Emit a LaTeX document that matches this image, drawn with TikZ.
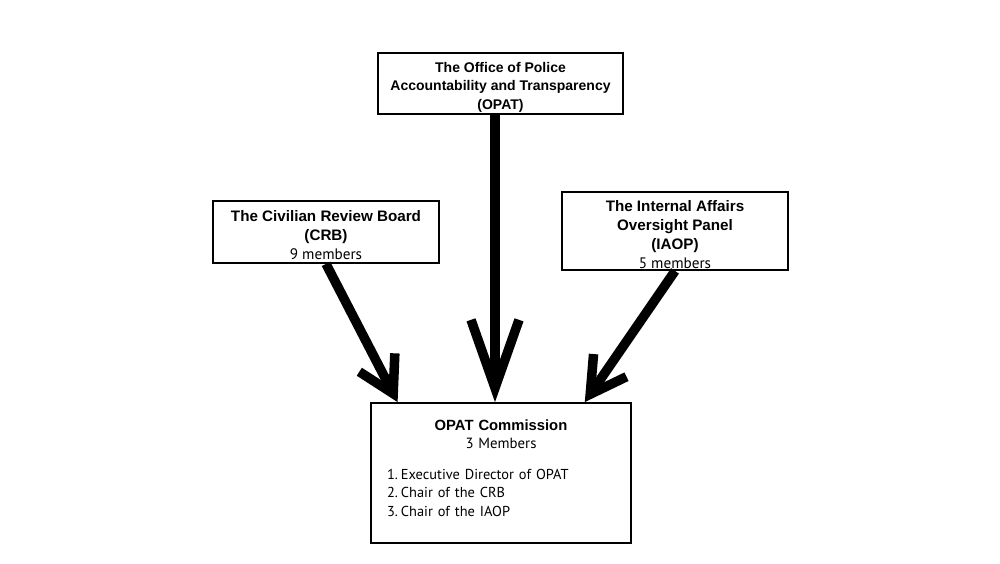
\documentclass[tikz,border=0pt]{standalone}
\usepackage{fontspec}
\setmainfont{PT Sans}
\newfontfamily\headfont{Liberation Sans}
\usetikzlibrary{arrows.meta, calc}

\tikzset{
  box/.style={draw, line width=0.9pt, inner sep=0pt, align=center, minimum width=113pt},
  flow/.style={line width=4.75pt, -{Straight Barb[sharp, length=17.5pt, width=20pt]}},
}
\newcommand{\hd}[1]{{\headfont\bfseries #1}}
\newcommand{\tp}{\rule{0pt}{8.6pt}}

\begin{document}
\begin{tikzpicture}[x=0.5pt, y=-0.5pt]
        \useasboundingbox (0,0) rectangle (1000,563);
        \node[box, minimum width=122.5pt, minimum height=30.5pt, font=\fontsize{7}{9.3}\selectfont] (opat) at (500.5,83.5)
          {\tp\hd{The Office of Police}\\ \hd{Accountability and Transparency}\\ \hd{(OPAT)}};
        \node[box, minimum height=31pt, font=\fontsize{7.6}{9.4}\selectfont] (crb) at (326,232)
          {\tp\hd{The Civilian Review Board}\\ \hd{(CRB)}\\ 9 members};
        \node[box, minimum height=39pt, font=\fontsize{7.6}{9.5}\selectfont] (iaop) at (675,231)
          {\tp\hd{The Internal Affairs}\\ \hd{Oversight Panel}\\ \hd{(IAOP)}\\ 5 members};
        \node[draw, line width=0.9pt, inner sep=0pt, minimum width=130pt, minimum height=70pt, text width=114pt,
          font=\fontsize{7.4}{9.3}\selectfont] (comm) at (501,473)
          {\centering\hd{OPAT Commission}\\ 3 Members\par\vspace{6pt}
           \raggedright\fontsize{7.2}{9.3}\selectfont 1.\hspace{1.5pt}Executive Director of OPAT\\ 2.\hspace{1.5pt}Chair of the CRB\\ 3.\hspace{1.5pt}Chair of the IAOP\par\kern5pt};
        \draw [flow] (crb.south) -- ($(comm.north west)!.105!(comm.north east)$);
        \draw [flow, -{Straight Barb[sharp, length=34pt, width=24pt]}] ([xshift=-2.75pt]opat.south) -- ([xshift=-2.75pt]opat.south |- comm.north);
        \draw [flow] (iaop.south) -- ($(comm.north east)!.18!(comm.north west)$);
      \end{tikzpicture}
\end{document}
